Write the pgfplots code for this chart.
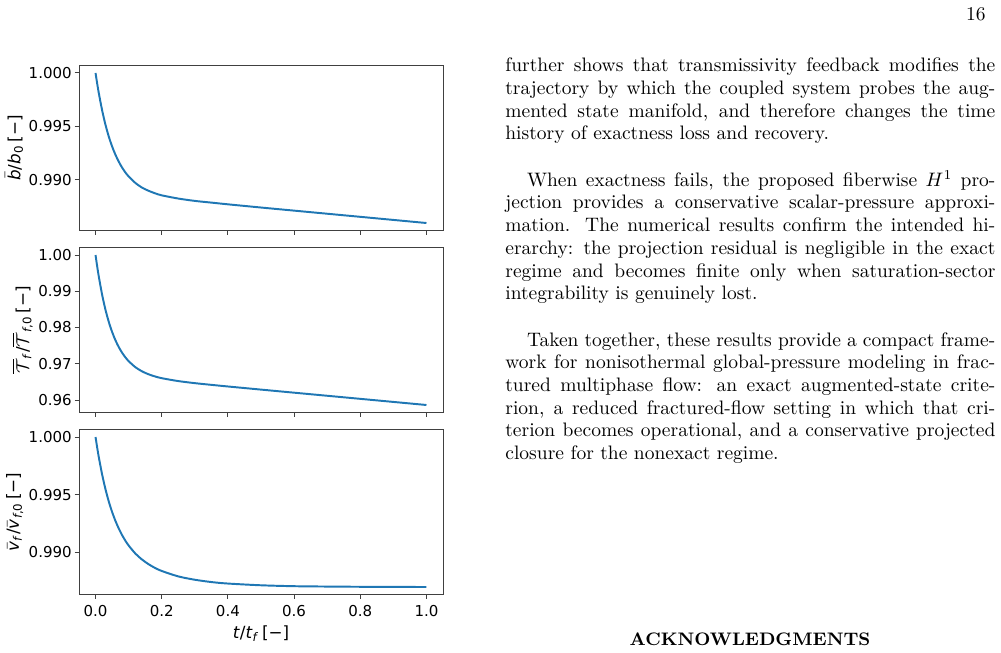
\documentclass[border=0pt]{standalone}
\usepackage{fontspec}
\usepackage{pgfplots}
\pgfplotsset{compat=1.18}
\newfontfamily\dejavu{DejaVu Sans}
\definecolor{mplblue}{HTML}{1F77B4}
\pgfplotsset{
  /pgf/number format/assume math mode=true,
  panel/.style={
    scale only axis, width=186.66pt, height=84.61pt,
    anchor=south west,
    xmin=-0.05, xmax=1.05,
    xtick={0,0.2,0.4,0.6,0.8,1},
    tick align=outside, tick pos=left,
    major tick length=2.2pt,
    axis line style={black!75, line width=0.5pt},
    every tick/.style={black!75, line width=0.5pt},
    tick label style={font=\dejavu\fontsize{7.7}{9}\selectfont},
    label style={font=\dejavu\fontsize{8.6}{10}\selectfont},
    yticklabel style={xshift=2pt},
    ylabel style={yshift=-4pt},
    xlabel style={yshift=2.5pt},
    scaled y ticks=false,
    yticklabel style={/pgf/number format/.cd, fixed, fixed zerofill, precision=3, /tikz/.cd},
  },
  curve/.style={color=mplblue, line width=1pt, no markers, smooth}
}
\begin{document}
\begin{tikzpicture}
\path[use as bounding box] (0,0) rectangle (513.31pt,-334.35pt);
% top panel
\begin{axis}[panel, at={(40.51pt,-118.20pt)},
  ymin=0.98526, ymax=1.00070, ytick={0.990,0.995,1.000},
  xticklabels={},
  ylabel={$\bar{\mbox{\textit{b}}}$/\textit{b}\textsubscript{0}\,[−]}]
\addplot[curve] coordinates {(0,1.00000)(0.005,0.99900)(0.01,0.99809)(0.02,0.99649)(0.03,0.99516)(0.04,0.99405)(0.05,0.99313)(0.06,0.99236)(0.07,0.99171)(0.08,0.99116)(0.09,0.99070)(0.10,0.99032)(0.12,0.98972)(0.14,0.98928)(0.16,0.98898)(0.18,0.98874)(0.20,0.98855)(0.25,0.98825)(0.30,0.98803)(0.35,0.98787)(0.40,0.98771)(0.50,0.98741)(0.60,0.98712)(0.70,0.98683)(0.80,0.98654)(0.90,0.98625)(1.00,0.98596)};
\end{axis}
% middle panel
\begin{axis}[panel, at={(40.51pt,-211.53pt)},
  ymin=0.95655, ymax=1.00207, ytick={0.96,0.97,0.98,0.99,1.00},
  yticklabel style={/pgf/number format/.cd, fixed, fixed zerofill, precision=2, /tikz/.cd},
  xticklabels={},
  ylabel={$\overline{\mathcal{T}}$\textsubscript{\textit{f}}/$\overline{\mathcal{T}}$\textsubscript{\textit{f},0}\,[−]}]
\addplot[curve] coordinates {(0,1.00000)(0.005,0.99683)(0.01,0.99396)(0.02,0.98899)(0.03,0.98491)(0.04,0.98155)(0.05,0.97880)(0.06,0.97651)(0.07,0.97463)(0.08,0.97308)(0.09,0.97179)(0.10,0.97072)(0.12,0.96908)(0.14,0.96793)(0.16,0.96710)(0.18,0.96649)(0.20,0.96602)(0.25,0.96522)(0.30,0.96465)(0.35,0.96418)(0.40,0.96373)(0.50,0.96287)(0.60,0.96202)(0.70,0.96117)(0.80,0.96032)(0.90,0.95947)(1.00,0.95862)};
\end{axis}
% bottom panel
\begin{axis}[panel, at={(40.51pt,-304.86pt)},
  ymin=0.98635, ymax=1.00065, ytick={0.990,0.995,1.000},
  xticklabel style={/pgf/number format/.cd, fixed, fixed zerofill, precision=1, /tikz/.cd},
  xlabel={\textit{t}/\textit{t}\textsubscript{\textit{f}}\,[−]},
  ylabel={$\bar{\mbox{\textit{v}}}$\textsubscript{\textit{f}}/$\bar{\mbox{\textit{v}}}$\textsubscript{\textit{f},0}\,[−]}]
\addplot[curve] coordinates {(0,1.00000)(0.005,0.99908)(0.01,0.99823)(0.02,0.99674)(0.03,0.99548)(0.04,0.99441)(0.05,0.99351)(0.06,0.99274)(0.07,0.99208)(0.08,0.99151)(0.09,0.99102)(0.10,0.99060)(0.12,0.98991)(0.14,0.98939)(0.16,0.98898)(0.18,0.98865)(0.20,0.98839)(0.25,0.98792)(0.30,0.98763)(0.35,0.98743)(0.40,0.98730)(0.50,0.98715)(0.60,0.98707)(0.70,0.98704)(0.80,0.98702)(0.90,0.98701)(1.00,0.98700)};
\end{axis}
% text column
\begin{scope}[x=0.5128pt, y=-0.5128pt, every node/.style={inner sep=0pt, anchor=base west, font=\fontsize{10}{12}\selectfont}]
\node[anchor=base east] at (986,20.5) {16};
\node at (505,71.7) {\hbox to 251.27pt{further shows that transmissivity feedback modifies the}};
\node at (505,94.4) {\hbox to 251.27pt{trajectory by which the coupled system probes the aug-}};
\node at (505,117.1) {\hbox to 251.27pt{mented state manifold, and therefore changes the time}};
\node at (505,139.8) {history of exactness loss and recovery.};
\node at (505,186.2) {\hbox to 251.27pt{\hspace*{11.1pt}When exactness fails, the proposed fiberwise $H^1$ pro-}};
\node at (505,208.9) {\hbox to 251.27pt{jection provides a conservative scalar-pressure approxi-}};
\node at (505,231.6) {\hbox to 251.27pt{mation. The numerical results confirm the intended hi-}};
\node at (505,254.3) {\hbox to 251.27pt{erarchy: the projection residual is negligible in the exact}};
\node at (505,277.0) {\hbox to 251.27pt{regime and becomes finite only when saturation-sector}};
\node at (505,299.7) {integrability is genuinely lost.};
\node at (505,346.1) {\hbox to 251.27pt{\hspace*{11.1pt}Taken together, these results provide a compact frame-}};
\node at (505,368.8) {\hbox to 251.27pt{work for nonisothermal global-pressure modeling in frac-}};
\node at (505,391.5) {\hbox to 251.27pt{tured multiphase flow: an exact augmented-state crite-}};
\node at (505,414.2) {\hbox to 251.27pt{rion, a reduced fractured-flow setting in which that cri-}};
\node at (505,436.9) {\hbox to 251.27pt{terion becomes operational, and a conservative projected}};
\node at (505,459.6) {closure for the nonexact regime.};
\node[anchor=base, font=\fontsize{9.3}{11}\selectfont\bfseries] at (750,645) {ACKNOWLEDGMENTS};
\end{scope}
\end{tikzpicture}
\end{document}
